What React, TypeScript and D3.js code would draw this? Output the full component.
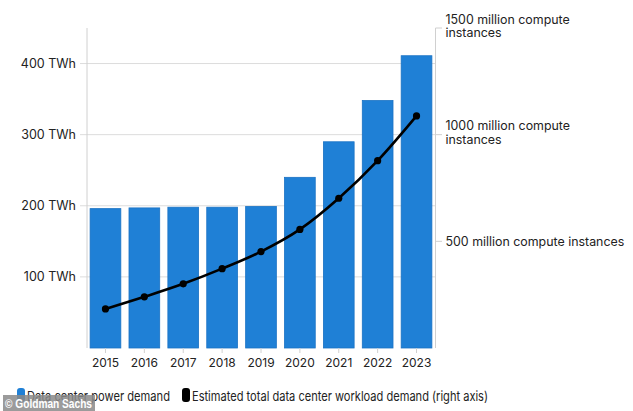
import React from "react";
import * as d3 from "d3";

const years = ["2015", "2016", "2017", "2018", "2019", "2020", "2021", "2022", "2023"];
const powerTWh = [196, 197, 198, 198, 199, 240, 290, 348, 411];
const workload = [183, 240, 301, 372, 452, 556, 702, 878, 1088];
const leftTicks = [100, 200, 300, 400];
const rightTicks = [500, 1000, 1500];
const rightLabels = [
  ["500 million compute instances"],
  ["1000 million compute", "instances"],
  ["1500 million compute", "instances"],
];
const legendLabels = ["Data center power demand", "Estimated total data center workload demand (right axis)"];

const W = 633;
const H = 411;
const FONT = "Inter, 'Noto Sans', sans-serif";

export default function App() {
  const x = d3.scaleBand<string>().domain(years).range([87, 435]).paddingInner(0.21).paddingOuter(0.08);
  const yL = d3.scaleLinear().domain([0, 450]).range([348, 28]);
  const yR = d3.scaleLinear().domain([0, 1500]).range([348, 28]);
  const cx = (i: number) => (x(years[i]) as number) + x.bandwidth() / 2;
  const line = d3
    .line<number>()
    .x((_, i) => cx(i))
    .y((d) => yR(d))
    .curve(d3.curveMonotoneX);

  return (
    <svg width={W} height={H} style={{ position: "absolute", left: 0, top: 0, background: "#fff" }} fontFamily={FONT}>
      <rect x={0} y={0} width={W} height={H} fill="#fff" />
      {leftTicks.map((t) => (
        <g key={t}>
          <line x1={80} x2={435} y1={yL(t)} y2={yL(t)} stroke="#dcdcdc" strokeWidth={1} />
          <text x={76} y={yL(t)} dy="0.36em" textAnchor="end" fontSize={12.5} fill="#222">
            {t} TWh
          </text>
        </g>
      ))}
      <line x1={87} x2={87} y1={28} y2={348} stroke="#d0d0d0" />
      <line x1={435.5} x2={435.5} y1={28} y2={348} stroke="#d0d0d0" />
      {rightTicks.map((t) => (
        <line key={t} x1={435.5} x2={442} y1={yR(t)} y2={yR(t)} stroke="#d0d0d0" />
      ))}
      {years.map((yr, i) => (
        <rect
          key={yr}
          x={x(yr)}
          y={yL(powerTWh[i])}
          width={x.bandwidth()}
          height={yL(0) - yL(powerTWh[i])}
          fill="#1f80d6"
          stroke="#1a72c4"
          strokeWidth={0.8}
        />
      ))}
      {years.map((yr, i) => (
        <g key={yr}>
          <line x1={cx(i)} x2={cx(i)} y1={348} y2={353} stroke="#d0d0d0" />
          <text x={cx(i)} y={367} textAnchor="middle" fontSize={12} fill="#222">
            {yr}
          </text>
        </g>
      ))}
      <path d={line(workload) as string} fill="none" stroke="#000" strokeWidth={2.6} />
      {workload.map((v, i) => (
        <circle key={i} cx={cx(i)} cy={yR(v)} r={3.6} fill="#000" />
      ))}
      {rightTicks.map((t, k) => {
        const lines = rightLabels[k];
        const y0 = lines.length === 1 ? yR(t) + 4.4 : yR(t) - 4.5;
        return (
          <text key={t} x={445.5} y={y0} fontSize={12.4} fill="#222">
            {lines.map((s, j) => (
              <tspan key={j} x={445.5} dy={j === 0 ? 0 : 13.5}>
                {s}
              </tspan>
            ))}
          </text>
        );
      })}
      <rect x={17} y={388} width={8} height={14} rx={3} fill="#1f80d6" />
      <text x={27} y={400.5} fontSize={13.5} fill="#222" textLength={143} lengthAdjust="spacingAndGlyphs">
        {legendLabels[0]}
      </text>
      <rect x={182} y={388} width={8} height={14} rx={3} fill="#000" />
      <text x={192} y={400.5} fontSize={13.5} fill="#222" textLength={296} lengthAdjust="spacingAndGlyphs">
        {legendLabels[1]}
      </text>
      <rect x={3} y={395} width={92} height={16} fill="#8a8a8a" opacity={0.85} />
      <text
        x={5}
        y={408}
        fontSize={12}
        fontWeight="bold"
        fill="#fff"
        fontFamily="Arial, 'Liberation Sans', sans-serif"
        textLength={87}
        lengthAdjust="spacingAndGlyphs"
      >
        © Goldman Sachs
      </text>
    </svg>
  );
}
